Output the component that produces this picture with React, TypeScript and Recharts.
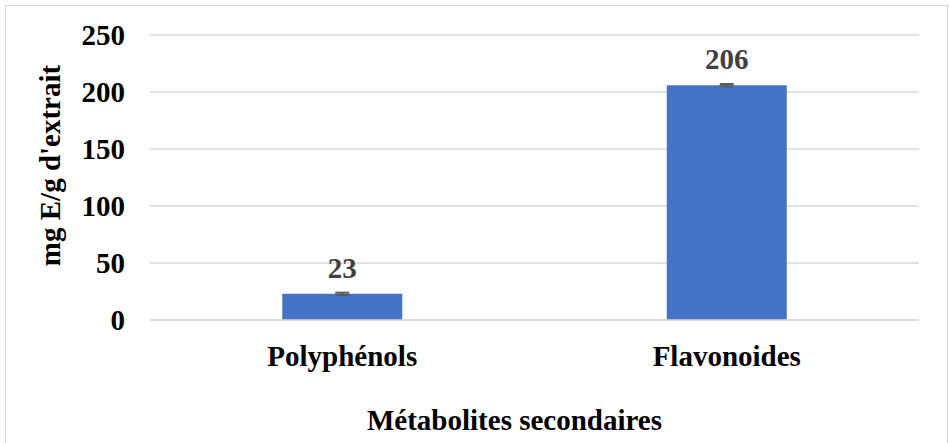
import { BarChart, Bar, XAxis, YAxis, CartesianGrid, LabelList, ErrorBar, Label } from "recharts"

const categories = ["Polyphénols", "Flavonoides"]
const values = [23, 206]
const errors = [1, 1]
const yTicks = [0, 50, 100, 150, 200, 250]

const data = categories.map((name, i) => ({ name, value: values[i], err: errors[i] }))

const font = "'Liberation Serif', 'Times New Roman', serif"

export default function App() {
  return (
    <div style={{ position: "absolute", left: 0, top: 0, width: 949, height: 443, background: "#fff", overflow: "hidden" }}>
      <div
        style={{
          position: "absolute",
          left: 5,
          top: 5,
          width: 941,
          height: 450,
          border: "1px solid #d9d9d9",
        }}
      />
      <div style={{ position: "absolute", left: 0, top: 0 }}>
        <BarChart
          width={949}
          height={443}
          data={data}
          margin={{ top: 35, right: 30, left: 30, bottom: 13 }}
          barCategoryGap="34.4%"
        >
          <CartesianGrid vertical={false} stroke="#d9d9d9" strokeWidth={1.5} />
          <XAxis
            dataKey="name"
            height={110}
            axisLine={{ stroke: "#d9d9d9", strokeWidth: 1.5 }}
            tickLine={false}
            tickSize={0}
            tickMargin={25}
            tick={{ fontFamily: font, fontSize: 29, fontWeight: "bold", fill: "#000" }}
          >
            <Label
              value="Métabolites secondaires"
              position="insideBottom"
              offset={0}
              dx={-20}
              style={{ fontFamily: font, fontSize: 29, fontWeight: "bold", fill: "#000" }}
            />
          </XAxis>
          <YAxis
            width={120}
            domain={[0, 250]}
            ticks={yTicks}
            axisLine={false}
            tickLine={false}
            tickSize={0}
            tickMargin={25}
            tick={{ fontFamily: font, fontSize: 29, fontWeight: "bold", fill: "#000" }}
          >
            <Label
              value="mg E/g d'extrait"
              angle={-90}
              position="insideLeft"
              offset={20}
              dy={-12}
              style={{ fontFamily: font, fontSize: 29, fontWeight: "bold", fill: "#000", textAnchor: "middle" }}
            />
          </YAxis>
          <Bar dataKey="value" fill="#4472C4" isAnimationActive={false}>
            <ErrorBar dataKey="err" width={7} stroke="#595959" strokeWidth={2} />
            <LabelList
              dataKey="value"
              position="top"
              offset={16}
              style={{ fontFamily: font, fontSize: 29, fontWeight: "bold", fill: "#404040" }}
            />
          </Bar>
        </BarChart>
      </div>
    </div>
  )
}
